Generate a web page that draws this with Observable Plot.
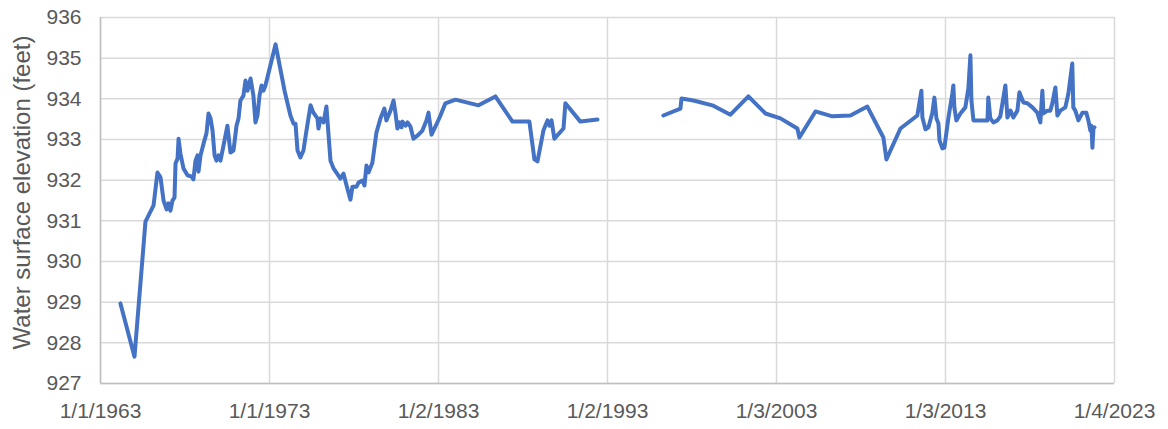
<!DOCTYPE html>
<html><head><meta charset="utf-8">
<script src="https://cdn.jsdelivr.net/npm/d3@7"></script>
<script src="https://cdn.jsdelivr.net/npm/@observablehq/plot@0.6"></script>
<style>body{margin:0;background:#fff}</style>
</head><body><div id="chart"></div>
<script>
// decimal years of each reading (null elevation = gap in record)
const years = [
1964.18,1965.01,1965.66,1966.14,1966.37,1966.55,1966.73,1966.91,1967.02,1967.14,1967.26,1967.38,1967.44,1967.56,1967.62,1967.73,1967.91,1968.15,1968.38,1968.50,1968.62,1968.74,1968.80,1968.92,1969.15,1969.27,1969.39,1969.51,1969.63,1969.75,1969.86,1969.98,1970.10,1970.34,1970.51,1970.69,1970.87,1971.05,1971.17,1971.28,1971.46,1971.58,1971.70,1971.88,1972.05,1972.17,1972.29,1972.41,1972.53,1972.64,1972.76,1973.36,1973.89,1974.24,1974.42,1974.54,1974.66,1974.83,1975.01,1975.19,1975.43,1975.60,1975.84,1975.90,1976.02,1976.20,1976.37,1976.61,1976.79,1977.20,1977.38,1977.56,1977.79,1977.91,1978.15,1978.27,1978.50,1978.62,1978.74,1978.86,1979.09,1979.33,1979.57,1979.80,1979.92,1980.16,1980.34,1980.46,1980.57,1980.69,1980.81,1980.87,1981.05,1981.17,1981.34,1981.52,1981.82,1982.05,1982.29,1982.41,1982.59,1982.88,1983.12,1983.41,1984.01,1985.37,1986.37,1987.38,1988.38,1988.68,1988.86,1989.21,1989.45,1989.57,1989.69,1989.86,1990.40,1990.51,1991.40,1992.41,
1994.30,
1996.31,1997.32,1997.38,1998.09,1999.21,2000.28,2001.34,2002.35,2003.24,2004.24,2004.36,2005.31,2006.31,2007.38,2008.38,2009.33,2009.51,2010.34,2011.34,2011.58,2011.64,2011.82,2012.00,2012.23,2012.35,2012.47,2012.59,2012.65,2012.82,2012.94,2013.18,2013.41,2013.47,2013.53,2013.65,2013.89,2014.18,2014.36,2014.48,2014.54,2014.66,2015.07,2015.49,2015.54,2015.66,2015.84,2016.08,2016.25,2016.55,2016.67,2016.85,2017.02,2017.26,2017.38,2017.50,2017.62,2017.85,2018.15,2018.44,2018.62,2018.74,2018.80,2019.04,2019.21,2019.33,2019.51,2019.63,2019.80,2020.10,2020.28,2020.51,2020.57,2020.69,2020.87,2021.11,2021.34,2021.46,2021.58,2021.64,2021.70,2021.76,2021.82
];
const elevation = [
928.97,927.66,930.98,931.38,932.19,932.07,931.50,931.28,931.43,931.25,931.50,931.57,932.41,932.53,933.02,932.66,932.29,932.12,932.09,932.02,932.48,932.61,932.21,932.61,932.98,933.15,933.64,933.52,933.22,932.61,932.48,932.61,932.48,932.98,933.34,932.68,932.73,933.34,933.52,933.96,934.08,934.45,934.20,934.50,934.08,933.42,933.59,934.08,934.33,934.20,934.33,935.34,934.20,933.59,933.39,933.39,932.73,932.56,932.73,933.22,933.84,933.66,933.52,933.27,933.52,933.42,933.81,932.48,932.29,932.04,932.16,931.87,931.52,931.84,931.84,931.94,931.99,931.87,932.36,932.19,932.43,933.17,933.52,933.76,933.47,933.71,933.96,933.64,933.27,933.42,933.30,933.44,933.34,933.42,933.32,933.02,933.12,933.22,933.47,933.66,933.12,933.37,933.59,933.89,933.98,933.84,934.06,933.44,933.44,932.51,932.46,933.22,933.47,933.34,933.47,933.02,933.27,933.89,933.44,933.49,
null,
933.59,933.76,934.01,933.96,933.84,933.61,934.06,933.64,933.52,933.27,933.05,933.69,933.57,933.59,933.81,933.05,932.51,933.27,933.59,934.20,933.54,933.25,933.30,933.66,934.03,933.52,933.39,932.98,932.78,932.80,933.54,934.13,934.33,933.79,933.47,933.64,933.79,934.25,935.07,933.96,933.47,933.47,933.47,934.03,933.52,933.42,933.47,933.57,934.33,933.54,933.71,933.54,933.71,934.16,934.03,933.91,933.89,933.79,933.66,933.42,934.20,933.64,933.71,933.71,933.89,934.28,933.59,933.71,933.79,934.13,934.87,933.79,933.71,933.47,933.66,933.66,933.47,933.22,933.34,932.80,933.27,933.30
];
const tickDates = ["1963-01-01","1973-01-01","1983-01-02","1993-01-02","2003-01-03","2013-01-03","2023-01-04"];
const tickLabels = ["1/1/1963","1/1/1973","1/2/1983","1/2/1993","1/3/2003","1/3/2013","1/4/2023"];
const yTicks = [927,928,929,930,931,932,933,934,935,936];

function yearToDate(y){
  const yr = Math.floor(y);
  const s = Date.UTC(yr,0,1), e = Date.UTC(yr+1,0,1);
  return new Date(s + (y - yr) * (e - s));
}
const data = years.map((y,i)=>({date: yearToDate(y), elev: elevation[i]}));
const xt = tickDates.map(d => new Date(d + "T00:00:00Z"));
const labelMap = new Map(xt.map((d,i)=>[+d, tickLabels[i]]));

const plot = Plot.plot({
  width: 1168, height: 429,
  marginLeft: 100, marginRight: 54, marginTop: 17, marginBottom: 46,
  style: {fontFamily: "'Liberation Sans', Arial, sans-serif", fontSize: "21px", color: "#595959", background: "white"},
  x: {type: "utc", domain: [xt[0], xt[xt.length-1]]},
  y: {domain: [927, 936]},
  marks: [
    Plot.gridY(yTicks, {stroke: "#d9d9d9", strokeOpacity: 1, strokeWidth: 1.5}),
    Plot.gridX(xt, {stroke: "#d9d9d9", strokeOpacity: 1, strokeWidth: 1.5}),
    Plot.ruleY([927], {stroke: "#bfbfbf", strokeWidth: 1.5}),
    Plot.ruleX([xt[0]], {stroke: "#bfbfbf", strokeWidth: 1.5}),
    Plot.axisY(yTicks, {tickSize: 0, tickPadding: 19, fontSize: 21, label: null, fill: "#595959"}),
    Plot.axisX(xt, {tickSize: 0, tickPadding: 20, fontSize: 21, label: null, fill: "#595959", tickFormat: d => labelMap.get(+d)}),
    Plot.text(["Water surface elevation (feet)"], {frameAnchor: "left", textAnchor: "middle", dx: -78, dy: -8, rotate: -90, fontSize: 24, fill: "#595959"}),
    Plot.line(data, {x: "date", y: "elev", stroke: "#4472C4", strokeWidth: 4, strokeLinejoin: "round", strokeLinecap: "round"})
  ]
});
document.getElementById("chart").appendChild(plot);
</script>
</body></html>
